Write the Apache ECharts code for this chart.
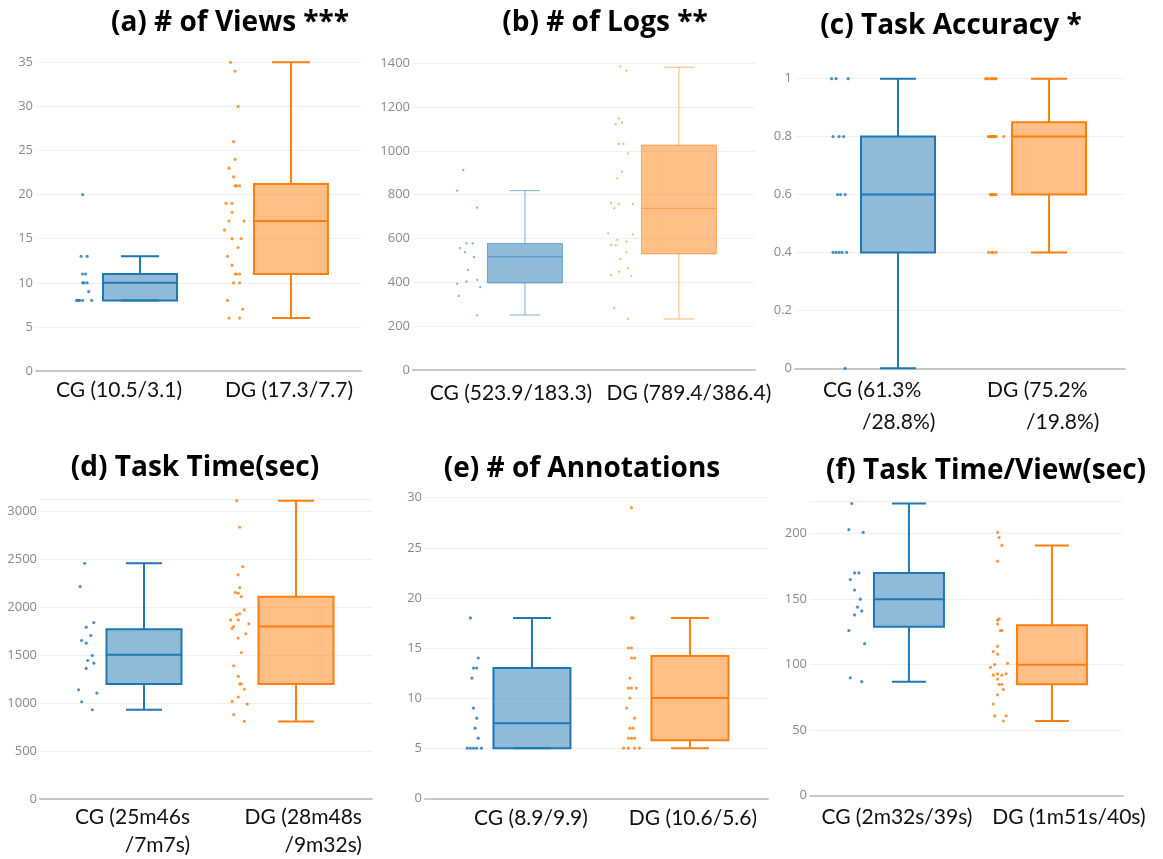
<!DOCTYPE html>
<html><head><meta charset="utf-8">
<script src="https://cdn.jsdelivr.net/npm/echarts@6/dist/echarts.min.js"></script>
<style>html,body{margin:0;padding:0;background:#fff}#c{width:1163px;height:859px}</style>
</head><body><div id="c"></div>
<script>
// ---------------- DATA ----------------
const titles = ['(a) # of Views ***', '(b) # of Logs **', '(c) Task Accuracy *',
                '(d) Task Time(sec)', '(e) # of Annotations', '(f) Task Time/View(sec)'];
const groupLabels = [
  ['CG (10.5/3.1)', 'DG (17.3/7.7)'],
  ['CG (523.9/183.3)', 'DG (789.4/386.4)'],
  ['CG (61.3%\n/28.8%)', 'DG (75.2%\n/19.8%)'],
  ['CG (25m46s\n/7m7s)', 'DG (28m48s\n/9m32s)'],
  ['CG (8.9/9.9)', 'DG (10.6/5.6)'],
  ['CG (2m32s/39s)', 'DG (1m51s/40s)']
];
// box stats: [min, q1, median, q3, max]
const boxCG = [[8, 8, 10, 11, 13], [251, 397, 517, 578, 819], [0, 0.4, 0.6, 0.8, 1],
               [929, 1197, 1502, 1769, 2456], [5, 5, 7.5, 13, 18], [87, 129, 150, 170, 223]];
const boxDG = [[6, 11, 17, 21.2, 35], [233, 530, 738, 1027, 1382], [0.4, 0.6, 0.8, 0.85, 1],
               [808, 1197, 1796, 2108, 3107], [5, 5.8, 10, 14.2, 18], [57, 85, 100, 130, 191]];
// y axis ticks
const yMax = [35, 1400, 1, 3120, 30, 225];
const yInterval = [5, 200, 0.2, 500, 5, 50];

// individual points (values) and their horizontal jitter (offset from box, in group units)
const viewsCG = [20, 13, 13, 11, 11, 10, 10, 10, 9, 8, 8, 8, 8, 8];
const viewsCGJit = [-0.38, -0.39, -0.35, -0.38, -0.36, -0.38, -0.37, -0.35, -0.34, -0.42, -0.41, -0.40, -0.38, -0.32];
const viewsDG = [35, 34, 30, 26, 24, 23, 22, 21, 21, 21, 19, 19, 18, 17, 17, 16, 15, 15, 14, 13, 12, 11, 11, 11, 10, 10, 8, 7, 6, 6];
const viewsDGJit = [-0.40, -0.37, -0.35, -0.38, -0.37, -0.41, -0.38, -0.37, -0.36, -0.34, -0.43, -0.39, -0.39, -0.41, -0.31, -0.44, -0.39, -0.33, -0.35, -0.42, -0.39, -0.37, -0.36, -0.34, -0.38, -0.34, -0.42, -0.32, -0.41, -0.34];

const logsCG = [912, 819, 741, 578, 578, 556, 537, 515, 457, 411, 403, 394, 378, 338, 250];
const logsCGJit = [-0.40, -0.44, -0.31, -0.38, -0.34, -0.42, -0.39, -0.33, -0.37, -0.31, -0.38, -0.44, -0.29, -0.43, -0.31];
const logsDG = [1385, 1367, 1149, 1121, 1129, 1032, 1032, 988, 906, 875, 763, 757, 738, 758, 624, 619, 571, 569, 594, 586, 537, 507, 464, 449, 434, 429, 282, 233];
const logsDGJit = [-0.38, -0.34, -0.39, -0.41, -0.37, -0.39, -0.36, -0.33, -0.37, -0.40, -0.44, -0.39, -0.42, -0.30, -0.46, -0.30, -0.44, -0.41, -0.40, -0.34, -0.34, -0.38, -0.33, -0.39, -0.44, -0.31, -0.42, -0.33];

const accCG = [1, 1, 1, 0.8, 0.8, 0.8, 0.6, 0.6, 0.6, 0.4, 0.4, 0.4, 0.4, 0.4, 0];
const accCGJit = [-0.44, -0.41, -0.33, -0.43, -0.39, -0.36, -0.40, -0.38, -0.35, -0.43, -0.41, -0.39, -0.37, -0.34, -0.35];
const accDG = [1, 1, 1, 1, 1, 1, 1, 1, 0.8, 0.8, 0.8, 0.8, 0.8, 0.8, 0.8, 0.8, 0.8, 0.8, 0.8,
               0.6, 0.6, 0.6, 0.6, 0.6, 0.6, 0.6, 0.4, 0.4, 0.4, 0.4];
const accDGJit = [-0.42, -0.41, -0.40, -0.38, -0.38, -0.36, -0.36, -0.35, -0.40, -0.40, -0.39, -0.38, -0.38, -0.37, -0.37, -0.36, -0.36, -0.35, -0.30,
                  -0.39, -0.38, -0.38, -0.37, -0.36, -0.36, -0.35, -0.40, -0.38, -0.37, -0.35];

const timeCG = [2456, 2213, 1790, 1838, 1703, 1651, 1623, 1495, 1443, 1415, 1360, 1138, 1103, 1013, 930];
const timeCGJit = [-0.39, -0.42, -0.38, -0.33, -0.35, -0.41, -0.38, -0.34, -0.37, -0.33, -0.38, -0.43, -0.31, -0.41, -0.34];
const timeDG = [3108, 2831, 2421, 2335, 2203, 2151, 2144, 2109, 1970, 1918, 1929, 1866, 1866, 1825, 1776, 1797, 1721, 1676, 1526, 1388, 1277, 1197, 1200, 1145, 1062, 1016, 989, 878, 808];
const timeDGJit = [-0.39, -0.37, -0.35, -0.38, -0.37, -0.40, -0.38, -0.36, -0.34, -0.39, -0.37, -0.43, -0.38, -0.31, -0.42, -0.41, -0.33, -0.38, -0.36, -0.41, -0.38, -0.37, -0.36, -0.34, -0.38, -0.42, -0.32, -0.41, -0.34];

const annCG = [18, 14, 13, 13, 12, 9, 8, 7, 6, 5, 5, 5, 5, 5];
const annCGJit = [-0.39, -0.34, -0.37, -0.35, -0.38, -0.37, -0.35, -0.36, -0.34, -0.41, -0.39, -0.37, -0.35, -0.32];
const annDG = [29, 18, 18, 15, 15, 14, 14, 12, 11, 11, 11, 10, 9, 8, 7, 7, 6, 6, 6, 5, 5, 5, 5];
const annDGJit = [-0.37, -0.37, -0.36, -0.39, -0.37, -0.37, -0.35, -0.38, -0.39, -0.37, -0.34, -0.38, -0.40, -0.35, -0.38, -0.36, -0.39, -0.37, -0.35, -0.42, -0.39, -0.35, -0.32];

const tpvCG = [223, 203, 201, 170, 170, 165, 157, 150, 144, 141, 138, 126, 116, 90, 87];
const tpvCGJit = [-0.40, -0.42, -0.32, -0.38, -0.35, -0.41, -0.38, -0.34, -0.36, -0.33, -0.38, -0.42, -0.31, -0.41, -0.33];
const tpvDG = [201, 197, 191, 179, 134, 135, 131, 126, 126, 114, 110, 108, 101, 100, 98, 92, 93, 92, 93, 89, 85, 85, 81, 77, 70, 61, 61, 57];
const tpvDGJit = [-0.38, -0.37, -0.35, -0.38, -0.38, -0.37, -0.38, -0.36, -0.35, -0.38, -0.41, -0.38, -0.31, -0.40, -0.43, -0.41, -0.38, -0.35, -0.32, -0.38, -0.37, -0.35, -0.34, -0.38, -0.41, -0.40, -0.32, -0.34];

const pointsCG = [[viewsCG, viewsCGJit], [logsCG, logsCGJit], [accCG, accCGJit], [timeCG, timeCGJit], [annCG, annCGJit], [tpvCG, tpvCGJit]];
const pointsDG = [[viewsDG, viewsDGJit], [logsDG, logsDGJit], [accDG, accDGJit], [timeDG, timeDGJit], [annDG, annDGJit], [tpvDG, tpvDGJit]];

// ---------------- LAYOUT / STYLE ----------------
const layout = [
  {grid: {left: 36, right: 802, top: 62.3, bottom: 488}, xr: [-0.689, 1.464], lab: [-0.139, 0.987], align: 'center', lm: 7, lh: 24, title: [230, 22], bw: 74, cw: 38, lw: 2, ps: 3.2, sa: 1, hideMax: false},
  {grid: {left: 413, right: 408, top: 63.3, bottom: 489}, xr: [-0.727, 1.494], lab: [-0.091, 1.065], align: 'center', lm: 11, lh: 24, title: [605, 22], bw: 75, cw: 31, lw: 1, ps: 2.2, sa: 0.55, hideMax: false},
  {grid: {left: 795, right: 38, top: 78.7, bottom: 490.7}, xr: [-0.682, 1.503], lab: [-0.497, 0.589], align: 'left', pad: 39, lm: 6, lh: 32, title: [951, 25], bw: 74, cw: 36, lw: 2, ps: 3.2, sa: 1, hideMax: false},
  {grid: {left: 40, right: 791, top: 499.5, bottom: 59.7}, xr: [-0.684, 1.5], lab: [0.303, 1.434], align: 'right', lm: 4, lh: 28, title: [195, 467], bw: 75, cw: 36, lw: 2, ps: 3.2, sa: 1, hideMax: true},
  {grid: {left: 425, right: 395, top: 497.7, bottom: 60.7}, xr: [-0.677, 1.494], lab: [-0.006, 1.019], align: 'center', lm: 8, lh: 24, title: [582, 468], bw: 77, cw: 38, lw: 2, ps: 3.2, sa: 1, hideMax: false},
  {grid: {left: 810, right: 40, top: 500.9, bottom: 63.3}, xr: [-0.692, 1.497], lab: [-0.084, 1.119], align: 'center', lm: 10, lh: 24, title: [986, 470], bw: 70, cw: 34, lw: 2, ps: 3.2, sa: 1, hideMax: true}
];
const BLUE = [31, 119, 180], ORANGE = [255, 127, 14];
const rgba = (c, a) => `rgba(${c[0]},${c[1]},${c[2]},${a})`;
const LABEL_FS = 21;

const chart = echarts.init(document.getElementById('c'), null, {renderer: 'canvas'});
const option = {
  animation: false,
  backgroundColor: '#ffffff',
  grid: [], xAxis: [], yAxis: [], series: [], graphic: []
};

layout.forEach((L, i) => {
  option.grid.push(Object.assign({containLabel: false}, L.grid));
  const labs = groupLabels[i];
  const rich = L.align === 'left' ? {
    a: {fontSize: LABEL_FS, fontFamily: 'Lato', color: '#111', lineHeight: L.lh},
    b: {fontSize: LABEL_FS, fontFamily: 'Lato', color: '#111', lineHeight: L.lh, padding: [0, 0, 0, L.pad]}
  } : undefined;
  option.xAxis.push({
    gridIndex: i, type: 'value', min: L.xr[0], max: L.xr[1],
    axisLine: {show: true, onZero: false, lineStyle: {color: '#c8c8c8', width: 2}},
    axisTick: {show: false}, splitLine: {show: false},
    axisLabel: {
      customValues: L.lab,
      margin: L.lm,
      align: L.align,
      verticalAlign: 'top',
      fontSize: LABEL_FS, fontFamily: 'Lato', color: '#111', lineHeight: L.lh,
      rich: rich,
      formatter: function (v) {
        let k = Math.abs(v - L.lab[0]) < Math.abs(v - L.lab[1]) ? 0 : 1;
        const t = labs[k];
        if (rich) { const p = t.split('\n'); return '{a|' + p[0] + '}\n{b|' + p[1] + '}'; }
        return t;
      }
    }
  });
  option.yAxis.push({
    gridIndex: i, type: 'value', min: 0, max: yMax[i], interval: yInterval[i],
    axisLine: {show: false}, axisTick: {show: false},
    splitLine: {show: true, lineStyle: {color: '#f0f0f0', width: 1}},
    axisLabel: {color: '#8a8a8a', fontSize: 13, fontFamily: 'Open Sans', margin: 3, showMaxLabel: !L.hideMax,
      formatter: v => String(Math.round(v * 100) / 100)}
  });
  // box series
  const cols = [BLUE, ORANGE];
  option.series.push({
    type: 'custom', xAxisIndex: i, yAxisIndex: i, clip: false,
    encode: {x: 0, y: [1, 2, 3, 4, 5]},
    data: [[0].concat(boxCG[i]), [1].concat(boxDG[i])],
    renderItem: function (params, api) {
      const x = api.value(0);
      const p = [1, 2, 3, 4, 5].map(d => api.coord([x, api.value(d)]));
      const cx = p[0][0];
      const col = cols[params.dataIndex];
      const stroke = rgba(col, L.sa);
      const ls = {stroke: stroke, lineWidth: L.lw, fill: null};
      const hb = L.bw / 2, hc = L.cw / 2;
      return {type: 'group', children: [
        {type: 'line', shape: {x1: cx, y1: p[3][1], x2: cx, y2: p[4][1]}, style: ls},
        {type: 'line', shape: {x1: cx, y1: p[1][1], x2: cx, y2: p[0][1]}, style: ls},
        {type: 'line', shape: {x1: cx - hc, y1: p[4][1], x2: cx + hc, y2: p[4][1]}, style: ls},
        {type: 'line', shape: {x1: cx - hc, y1: p[0][1], x2: cx + hc, y2: p[0][1]}, style: ls},
        {type: 'rect', shape: {x: cx - hb, y: p[3][1], width: L.bw, height: p[1][1] - p[3][1]},
          style: {fill: rgba(col, 0.5), stroke: stroke, lineWidth: L.lw}},
        {type: 'line', shape: {x1: cx - hb, y1: p[2][1], x2: cx + hb, y2: p[2][1]}, style: ls}
      ]};
    }
  });
  // points
  const cg = pointsCG[i], dg = pointsDG[i];
  option.series.push({
    type: 'scatter', xAxisIndex: i, yAxisIndex: i, symbolSize: L.ps, clip: false,
    itemStyle: {color: rgba(BLUE, i === 1 ? 0.75 : 1)},
    data: cg[0].map((v, k) => [cg[1][k], v])
  });
  option.series.push({
    type: 'scatter', xAxisIndex: i, yAxisIndex: i, symbolSize: L.ps, clip: false,
    itemStyle: {color: rgba(ORANGE, i === 1 ? 0.75 : 1)},
    data: dg[0].map((v, k) => [1 + dg[1][k], v])
  });
  option.graphic.push({
    type: 'text', x: L.title[0], y: L.title[1] + 1,
    style: {text: titles[i], fill: '#000', font: 'bold 28px "Open Sans"', align: 'center', verticalAlign: 'middle'}
  });
});

chart.setOption(option);
</script>
</body></html>
